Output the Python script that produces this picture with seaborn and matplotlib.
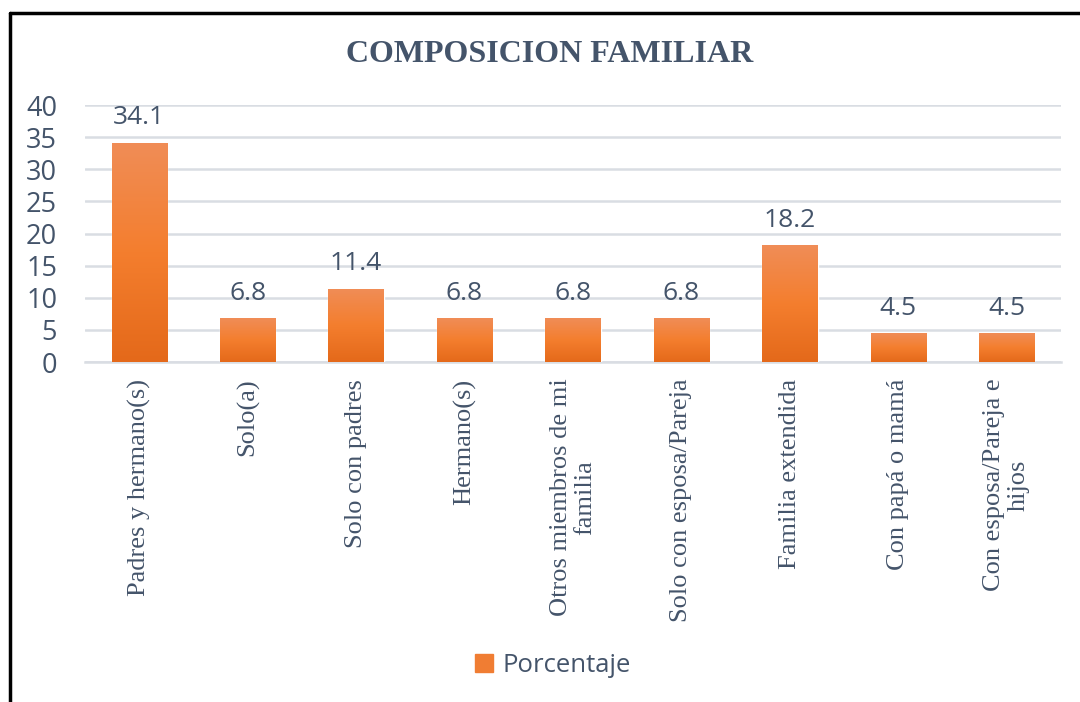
import matplotlib
matplotlib.use('Agg')
import matplotlib.pyplot as plt
from matplotlib.lines import Line2D
from matplotlib.colors import LinearSegmentedColormap
import numpy as np
import pandas as pd
import seaborn as sns

# datos del grafico
categorias = ['Padres y hermano(s)', 'Solo(a)', 'Solo con padres', 'Hermano(s)',
              'Otros miembros de mi\nfamilia', 'Solo con esposa/Pareja',
              'Familia extendida', 'Con papá o mamá', 'Con esposa/Pareja e\nhijos']
porcentaje = [34.1, 6.8, 11.4, 6.8, 6.8, 6.8, 18.2, 4.5, 4.5]
yticks = [0, 5, 10, 15, 20, 25, 30, 35, 40]

TEXTO = '#44546A'
NARANJA = '#F07D33'
GRID = '#D9DDE3'

sns.set_theme(style='white')
plt.rcParams['font.family'] = ['Open Sans', 'DejaVu Sans']

df = pd.DataFrame({'cat': categorias, 'val': porcentaje})

fig = plt.figure(figsize=(10.8, 7.02), dpi=100)
ax = fig.add_axes([0.0787, 0.4843, 0.9037, 0.3661])

sns.barplot(data=df, x='cat', y='val', color=NARANJA, width=0.51,
            saturation=1, ax=ax, zorder=3)

# degradado en cada barra
cmap = LinearSegmentedColormap.from_list('grad', ['#E4691A', '#F47E2E', '#F08D57'])
grad = np.linspace(0, 1, 256).reshape(-1, 1)
for p in ax.patches:
    x0, y0 = p.get_x(), p.get_y()
    w, h = p.get_width(), p.get_height()
    im = ax.imshow(grad, extent=[x0, x0 + w, y0, y0 + h], origin='lower',
                   cmap=cmap, aspect='auto', zorder=4)
    im.set_clip_path(p)
    ax.annotate(f'{h:.1f}', (x0 + w / 2, h), xytext=(0, 9),
                textcoords='offset points', ha='center', va='bottom',
                fontsize=19, color=TEXTO)

ax.set_xlim(-0.5, len(categorias) - 0.5)
ax.set_ylim(0, 40)
ax.set_yticks(yticks)
ax.set_yticklabels([str(t) for t in yticks], fontsize=19.5, color=TEXTO)
ax.yaxis.grid(True, color=GRID, linewidth=1.8, zorder=0)
ax.set_axisbelow(True)
for s in ['top', 'right', 'left']:
    ax.spines[s].set_visible(False)
ax.spines['bottom'].set_color(GRID)
ax.spines['bottom'].set_linewidth(1.8)
ax.tick_params(axis='y', length=0, pad=20)
ax.tick_params(axis='x', length=0, pad=12)
ax.set_xlabel('')
ax.set_ylabel('')
ax.set_xticks(range(len(categorias)))
ax.set_xticklabels(categorias, rotation=90, fontsize=19, color=TEXTO,
                   family=['Liberation Serif', 'DejaVu Serif'],
                   ha='center', va='top', multialignment='center',
                   linespacing=1.15)

fig.text(0.509, 0.923, 'COMPOSICION FAMILIAR', ha='center', va='center',
         fontsize=23, fontweight='bold', color=TEXTO,
         family=['Liberation Serif', 'DejaVu Serif'])

# leyenda
handle = plt.Rectangle((0, 0), 1, 1, color=NARANJA)
fig.legend([handle], ['Porcentaje'], loc='center', bbox_to_anchor=(0.512, 0.052),
           frameon=False, fontsize=18.5, labelcolor=TEXTO, handlelength=0.7,
           handleheight=0.7, handletextpad=0.35)

# borde del recuadro (izquierda y arriba)
fig.add_artist(Line2D([0.0093, 0.0093], [0, 0.982], color='black', lw=2.5,
                      transform=fig.transFigure))
fig.add_artist(Line2D([0.0093, 1.0], [0.982, 0.982], color='black', lw=2.5,
                      transform=fig.transFigure))

fig.savefig('out.png', dpi=100)
